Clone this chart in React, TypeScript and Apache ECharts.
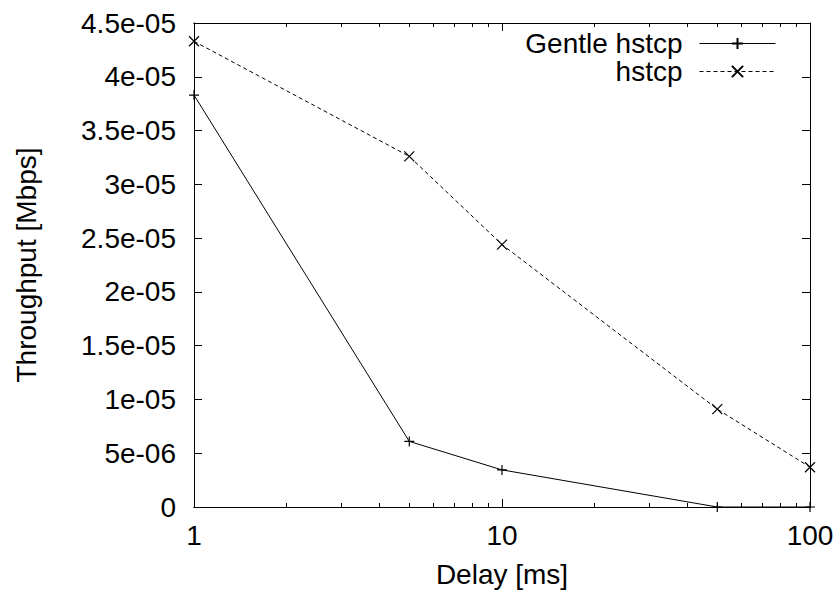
import React, { useEffect, useRef } from "react";
import * as echarts from "echarts";

const delays = [1, 5, 10, 50, 100];
const gentleHstcp = [3.83e-5, 6.1e-6, 3.45e-6, 0, 0];
const hstcp = [4.33e-5, 3.26e-5, 2.44e-5, 9.1e-6, 3.7e-6];
const yTickLabels = ["0", "5e-06", "1e-05", "1.5e-05", "2e-05", "2.5e-05", "3e-05", "3.5e-05", "4e-05", "4.5e-05"];
const xMajorTicks = [1, 10, 100];
const xMinorTicks = [2, 3, 4, 5, 6, 7, 8, 9, 20, 30, 40, 50, 60, 70, 80, 90];

const FONT = "'Liberation Sans', Arial, sans-serif";
const FS = 28;

export default function App() {
  const ref = useRef<HTMLDivElement>(null);
  useEffect(() => {
    if (!ref.current) return;
    const chart = echarts.init(ref.current, undefined, { renderer: "svg" });
    const line = { lineStyle: { color: "#000", width: 1 } };
    const baseX = (pos: string, major: boolean, labels: boolean, name?: string) => ({
      type: "log",
      logBase: 10,
      min: 1,
      max: 100,
      position: pos,
      name: name,
      nameLocation: "middle",
      nameGap: 53,
      nameTextStyle: { fontFamily: FONT, fontSize: FS, color: "#000" },
      axisLine: { show: true, ...line },
      axisTick: {
        show: true,
        inside: true,
        length: major ? 8 : 4,
        customValues: major ? xMajorTicks : xMinorTicks,
        ...line,
      },
      axisLabel: labels
        ? { show: true, customValues: xMajorTicks, margin: 14, fontFamily: FONT, fontSize: FS, color: "#000" }
        : { show: false },
      splitLine: { show: false },
      minorTick: { show: false },
    });
    const baseY = (pos: string, labels: boolean, name?: string) => ({
      type: "value",
      min: 0,
      max: 4.5e-5,
      interval: 5e-6,
      position: pos,
      name: name,
      nameLocation: "middle",
      nameGap: 154,
      nameTextStyle: { fontFamily: FONT, fontSize: FS, color: "#000" },
      axisLine: { show: true, ...line },
      axisTick: { show: true, inside: true, length: 8, ...line },
      axisLabel: labels
        ? {
            show: true,
            margin: 18,
            fontFamily: FONT,
            fontSize: FS,
            color: "#000",
            formatter: (v: number) => yTickLabels[Math.round(v / 5e-6)] ?? "",
          }
        : { show: false },
      splitLine: { show: false },
    });
    chart.setOption({
      animation: false,
      backgroundColor: "#fff",
      grid: { left: 194, right: 28, top: 23, bottom: 91, containLabel: false },
      xAxis: [
        baseX("bottom", true, true, "Delay [ms]"),
        baseX("bottom", false, false),
        baseX("top", true, false),
        baseX("top", false, false),
      ],
      yAxis: [baseY("left", true, "Throughput [Mbps]"), baseY("right", false)],
      legend: {
        orient: "vertical",
        right: 62,
        top: 29.5,
        padding: 0,
        align: "right",
        itemWidth: 76,
        itemHeight: 14,
        itemGap: 0,
        lineStyle: { width: 1 },
        textStyle: { fontFamily: FONT, fontSize: FS, color: "#000", lineHeight: 28, padding: [0, 12, 0, 0] },
        data: ["Gentle hstcp", "hstcp"],
      },
      series: [
        {
          name: "Gentle hstcp",
          type: "line",
          data: delays.map((d, i) => [d, gentleHstcp[i]]),
          symbol: "path://M0,5L10,5M5,0L5,10",
          symbolSize: 10,
          showSymbol: true,
          lineStyle: { color: "#000", width: 1, type: "solid" },
          itemStyle: { color: "none", borderColor: "#000", borderWidth: 1.2 },
          color: "#000",
        },
        {
          name: "hstcp",
          type: "line",
          data: delays.map((d, i) => [d, hstcp[i]]),
          symbol: "path://M0,0L10,10M10,0L0,10",
          symbolSize: 10,
          showSymbol: true,
          lineStyle: { color: "#000", width: 1, type: [4, 3] },
          itemStyle: { color: "none", borderColor: "#000", borderWidth: 1.2 },
          color: "#000",
        },
      ],
    });
    return () => chart.dispose();
  }, []);
  return <div ref={ref} style={{ position: "fixed", left: 0, top: 0, width: 838, height: 598 }} />;
}
